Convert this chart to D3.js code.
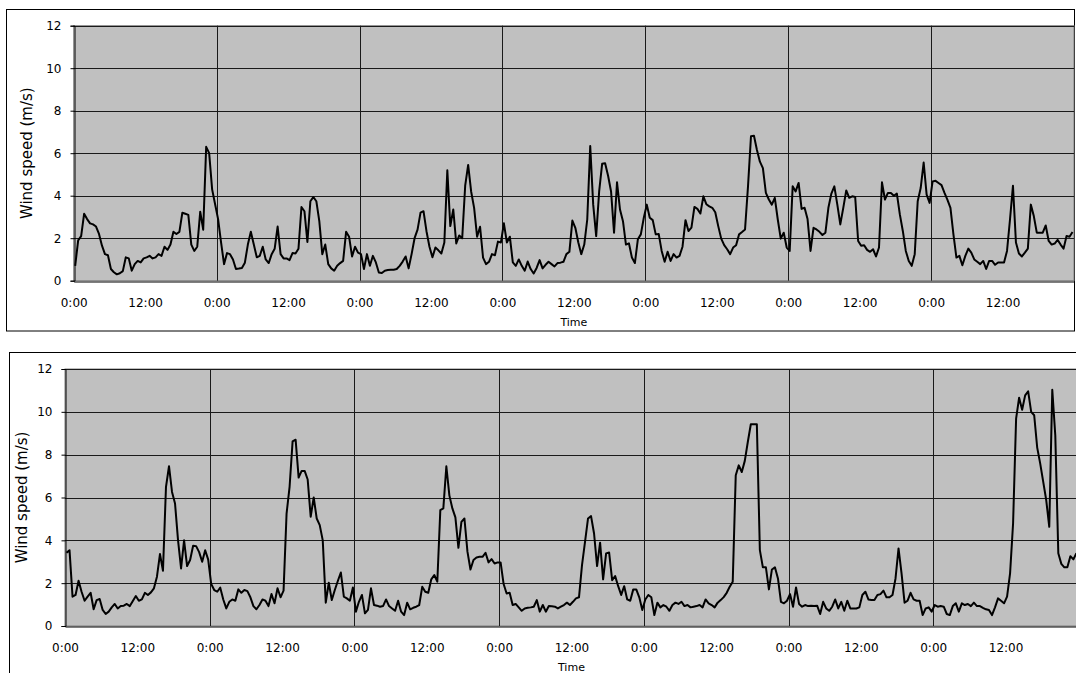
<!DOCTYPE html>
<html>
<head>
<meta charset="utf-8">
<script src="https://cdn.jsdelivr.net/npm/d3@7/dist/d3.min.js"></script>
<style>
  html, body { margin: 0; padding: 0; background: #fff; }
  svg { display: block; }
  text { font-family: "DejaVu Sans", "Noto Sans CJK JP", sans-serif; fill: #000; }
</style>
</head>
<body>
<svg id="chart" width="1076" height="673"></svg>
<script>
// Half-hourly wind speed (m/s), one value per 30-minute slot, 7 days per week.
const speedWeek1 = [
  // day 1
  0.7, 1.9, 2.1, 3.15, 2.9, 2.7, 2.65, 2.55, 2.2, 1.65, 1.25, 1.2,
  0.55, 0.4, 0.3, 0.35, 0.45, 1.1, 1.05, 0.47, 0.78, 0.93, 0.86, 1.05,
  1.1, 1.17, 1.05, 1.1, 1.25, 1.17, 1.6, 1.45, 1.7, 2.3, 2.2, 2.3,
  3.2, 3.15, 3.1, 1.7, 1.4, 1.6, 3.25, 2.4, 6.3, 6.0, 4.3, 3.6,
  // day 2
  2.9, 1.8, 0.78, 1.3, 1.25, 1.0, 0.55, 0.57, 0.6, 0.85, 1.7, 2.3,
  1.7, 1.1, 1.17, 1.6, 1.0, 0.83, 1.25, 1.5, 2.55, 1.25, 1.05, 1.05,
  0.97, 1.3, 1.28, 1.5, 3.47, 3.27, 1.82, 3.74, 3.94, 3.74, 2.8, 1.25,
  1.7, 0.78, 0.58, 0.47, 0.7, 0.83, 0.93, 2.3, 2.07, 1.14, 1.6, 1.32,
  // day 3
  1.25, 0.55, 1.25, 0.7, 1.17, 0.86, 0.39, 0.36, 0.47, 0.5, 0.51, 0.52,
  0.55, 0.7, 0.9, 1.14, 0.58, 1.25, 2.0, 2.4, 3.2, 3.27, 2.33, 1.6,
  1.1, 1.56, 1.43, 1.28, 1.8, 5.2, 2.57, 3.35, 1.75, 2.13, 2.0, 4.47,
  5.45, 4.2, 3.43, 2.07, 2.54, 1.09, 0.78, 0.89, 1.25, 1.2, 1.84, 1.8,
  // day 4
  2.7, 1.8, 2.07, 0.86, 0.7, 1.0, 0.7, 0.47, 0.9, 0.55, 0.34, 0.6,
  0.97, 0.58, 0.75, 0.89, 0.78, 0.67, 0.83, 0.85, 0.89, 1.25, 1.36, 2.83,
  2.49, 1.8, 1.25, 1.7, 2.88, 6.34, 3.58, 2.1, 4.2, 5.5, 5.53, 4.94,
  4.2, 2.26, 4.63, 3.35, 2.8, 1.7, 1.76, 1.09, 0.83, 1.95, 2.18, 2.96,
  // day 5
  3.58, 2.96, 2.85, 2.18, 2.2, 1.4, 0.89, 1.36, 0.93, 1.25, 1.09, 1.17,
  1.6, 2.85, 2.34, 2.5, 3.47, 3.38, 3.16, 3.97, 3.6, 3.5, 3.43, 3.22,
  2.57, 1.98, 1.67, 1.48, 1.25, 1.56, 1.67, 2.18, 2.29, 2.41, 4.44, 6.8,
  6.82, 6.15, 5.6, 5.3, 4.13, 3.82, 3.58, 3.9, 2.88, 1.98, 2.26, 1.56,
  // day 6
  1.4, 4.44, 4.2, 4.6, 3.38, 3.43, 2.9, 1.4, 2.49, 2.41, 2.3, 2.15,
  2.26, 3.43, 4.1, 4.44, 3.58, 2.65, 3.43, 4.25, 3.9, 3.97, 3.94, 1.87,
  1.64, 1.67, 1.45, 1.36, 1.48, 1.14, 1.56, 4.63, 3.82, 4.13, 4.13, 4.0,
  4.1, 3.12, 2.34, 1.4, 0.93, 0.7, 1.25, 3.74, 4.36, 5.56, 4.05, 3.66,
  // day 7
  4.67, 4.7, 4.6, 4.5, 4.13, 3.8, 3.43, 2.18, 1.09, 1.17, 0.73, 1.17,
  1.51, 1.32, 1.0, 0.89, 0.78, 0.93, 0.55, 0.93, 0.93, 0.75, 0.86, 0.86,
  0.86, 1.4, 2.88, 4.47, 1.8, 1.28, 1.14, 1.32, 1.51, 3.58, 3.04, 2.26,
  2.26, 2.26, 2.6, 1.87, 1.7, 1.75, 1.92, 1.7, 1.51, 2.1, 2.07, 2.29
];

const speedWeek2 = [
  // day 1
  3.42, 3.54, 1.37, 1.45, 2.11, 1.6, 1.18, 1.37, 1.55, 0.78, 1.21, 1.26,
  0.75, 0.56, 0.67, 0.87, 1.03, 0.82, 0.93, 0.95, 1.03, 0.93, 1.17, 1.4,
  1.18, 1.24, 1.55, 1.45, 1.57, 1.76, 2.3, 3.36, 2.58, 6.5, 7.46, 6.26,
  5.72, 4.0, 2.69, 4.0, 2.8, 3.08, 3.75, 3.73, 3.45, 3.0, 3.54, 3.1,
  // day 2
  1.96, 1.68, 1.6, 1.79, 1.24, 0.82, 1.13, 1.24, 1.18, 1.71, 1.55, 1.68,
  1.63, 1.34, 0.93, 0.78, 0.98, 1.24, 1.18, 0.93, 1.49, 1.06, 1.76, 1.34,
  1.65, 5.25, 6.5, 8.62, 8.7, 6.93, 7.24, 7.24, 6.84, 5.1, 6.0, 5.02,
  4.71, 4.0, 1.09, 2.02, 1.21, 1.68, 2.1, 2.5, 1.37, 1.29, 1.18, 1.8,
  // day 3
  0.67, 1.13, 1.45, 0.59, 0.75, 1.76, 0.98, 0.95, 0.9, 0.93, 1.24, 0.93,
  0.82, 0.71, 1.18, 0.67, 0.51, 1.09, 0.78, 0.85, 0.9, 0.98, 1.83, 1.6,
  1.55, 2.18, 2.38, 2.07, 5.41, 5.49, 7.46, 6.1, 5.49, 5.07, 3.65, 4.86,
  5.02, 3.47, 2.64, 3.08, 3.2, 3.23, 3.23, 3.42, 2.97, 3.12, 2.92, 2.97,
  // day 4
  2.97, 1.96, 1.52, 1.55, 0.98, 1.03, 0.87, 0.71, 0.82, 0.85, 0.87, 0.9,
  1.21, 0.67, 0.98, 0.67, 0.93, 0.92, 0.9, 0.82, 0.9, 0.98, 1.09, 0.98,
  1.13, 1.29, 1.34, 2.84, 3.93, 5.02, 5.13, 4.32, 2.8, 3.89, 2.18, 3.39,
  3.43, 2.14, 2.33, 1.86, 1.45, 1.86, 1.24, 1.18, 1.71, 1.71, 1.34, 0.75,
  // day 5
  1.24, 1.45, 1.34, 0.51, 1.09, 0.87, 0.98, 0.9, 0.71, 0.98, 1.09, 1.03,
  1.13, 0.93, 0.98, 0.87, 0.9, 0.93, 0.98, 0.87, 1.24, 1.06, 0.98, 0.87,
  1.09, 1.21, 1.35, 1.55, 1.83, 2.07, 7.04, 7.5, 7.19, 7.71, 8.59, 9.42,
  9.42, 9.42, 3.54, 2.74, 2.74, 1.71, 2.64, 2.74, 2.22, 1.13, 1.06, 1.18,
  // day 6
  1.49, 0.9, 1.8, 1.03, 0.9, 0.98, 0.93, 0.95, 0.93, 0.95, 0.56, 1.13,
  0.82, 0.71, 0.9, 1.24, 0.82, 1.13, 0.71, 1.18, 0.82, 0.82, 0.82, 0.87,
  1.45, 1.6, 1.24, 1.21, 1.21, 1.45, 1.49, 1.65, 1.34, 1.34, 1.45, 2.22,
  3.62, 2.46, 1.09, 1.18, 1.55, 1.24, 1.18, 1.18, 0.51, 0.82, 0.87, 0.67,
  // day 7
  0.98, 0.9, 0.93, 0.9, 0.56, 0.51, 0.93, 1.06, 0.67, 1.06, 0.98, 1.03,
  0.93, 1.09, 0.93, 0.93, 0.85, 0.78, 0.75, 0.51, 0.87, 1.29, 1.18, 1.06,
  1.37, 2.46, 4.8, 9.68, 10.66, 10.1, 10.77, 10.96, 10.0, 9.84, 8.33, 7.58,
  6.73, 5.87, 4.63, 11.03, 8.9, 3.4, 2.9, 2.74, 2.74, 3.26, 3.11, 3.4
];

// Axis ticks: every 12 hours over the week, and wind speed every 2 m/s.
const timeTicks = [0, 12, 24, 36, 48, 60, 72, 84, 96, 108, 120, 132, 144, 156];
const timeTickLabels = ["0:00", "12:00"];
const speedTicks = [0, 2, 4, 6, 8, 10, 12];
const weekHours = 168;
const slotHours = 0.5;

const svg = d3.select("#chart");

function drawPanel(cfg) {
  const g = svg.append("g");

  // outer chart frame
  g.append("rect")
    .attr("x", cfg.frame[0]).attr("y", cfg.frame[1])
    .attr("width", cfg.frame[2]).attr("height", cfg.frame[3])
    .attr("fill", "#fff").attr("stroke", "#000").attr("stroke-width", 1);

  const x = d3.scaleLinear().domain([0, weekHours]).range([cfg.left, cfg.right]);
  const y = d3.scaleLinear().domain([0, 12]).range([cfg.bottom, cfg.top]);

  // plot area
  g.append("rect")
    .attr("x", cfg.left).attr("y", cfg.top)
    .attr("width", cfg.right - cfg.left).attr("height", cfg.bottom - cfg.top)
    .attr("fill", "#c0c0c0").attr("stroke", "#808080").attr("stroke-width", 1);

  // horizontal gridlines
  g.append("g").selectAll("line")
    .data(speedTicks.filter(d => d > 0))
    .join("line")
    .attr("x1", cfg.left).attr("x2", cfg.right)
    .attr("y1", d => Math.round(y(d)) + 0.5).attr("y2", d => Math.round(y(d)) + 0.5)
    .attr("stroke", "#1a1a1a").attr("stroke-width", 1);

  // day boundaries
  g.append("g").selectAll("line")
    .data(d3.range(24, weekHours, 24))
    .join("line")
    .attr("x1", d => Math.round(x(d)) + 0.5).attr("x2", d => Math.round(x(d)) + 0.5)
    .attr("y1", cfg.top).attr("y2", cfg.bottom)
    .attr("stroke", "#1a1a1a").attr("stroke-width", 1);

  // y axis
  const yAxis = d3.axisLeft(y).tickValues(speedTicks).tickSize(4).tickPadding(9)
    .tickFormat(d3.format("d"));
  const ya = g.append("g")
    .attr("transform", `translate(${Math.round(cfg.left) + 0.5},0)`)
    .call(yAxis);
  ya.select(".domain").attr("stroke", "#000");
  ya.selectAll(".tick line").attr("stroke", "#000");
  ya.selectAll("text").attr("font-size", 12).attr("font-family", "DejaVu Sans");

  // x axis
  const xAxis = d3.axisBottom(x).tickValues(timeTicks).tickSize(0).tickPadding(17)
    .tickFormat((d, i) => timeTickLabels[i % 2]);
  const xa = g.append("g")
    .attr("transform", `translate(0,${Math.round(cfg.bottom) + 0.5})`)
    .call(xAxis);
  xa.select(".domain").attr("stroke", "#000");
  xa.selectAll("text").attr("font-size", 12).attr("font-family", "DejaVu Sans");

  // axis titles
  g.append("text")
    .attr("x", (cfg.left + cfg.right) / 2).attr("y", cfg.bottom + 45)
    .attr("text-anchor", "middle").attr("font-size", 11)
    .text("Time");
  g.append("text")
    .attr("transform", `translate(${cfg.titleX},${(cfg.top + cfg.bottom) / 2}) rotate(-90)`)
    .attr("text-anchor", "middle").attr("font-size", 15)
    .text("Wind speed (m/s)");

  // wind speed line
  const line = d3.line()
    .x((d, i) => x((i + 0.5) * slotHours))
    .y(d => y(d));
  g.append("path")
    .datum(cfg.data)
    .attr("d", line)
    .attr("fill", "none")
    .attr("stroke", "#000")
    .attr("stroke-width", 2)
    .attr("stroke-linejoin", "round");
}

drawPanel({
  data: speedWeek1,
  frame: [6.5, 9.5, 1068, 321.5],
  left: 73.7, right: 1074, top: 25.7, bottom: 280.7,
  titleX: 32
});

drawPanel({
  data: speedWeek2,
  frame: [9.5, 352.5, 1080, 340],
  left: 65, right: 1077.9, top: 369, bottom: 626,
  titleX: 27
});
</script>
</body>
</html>
